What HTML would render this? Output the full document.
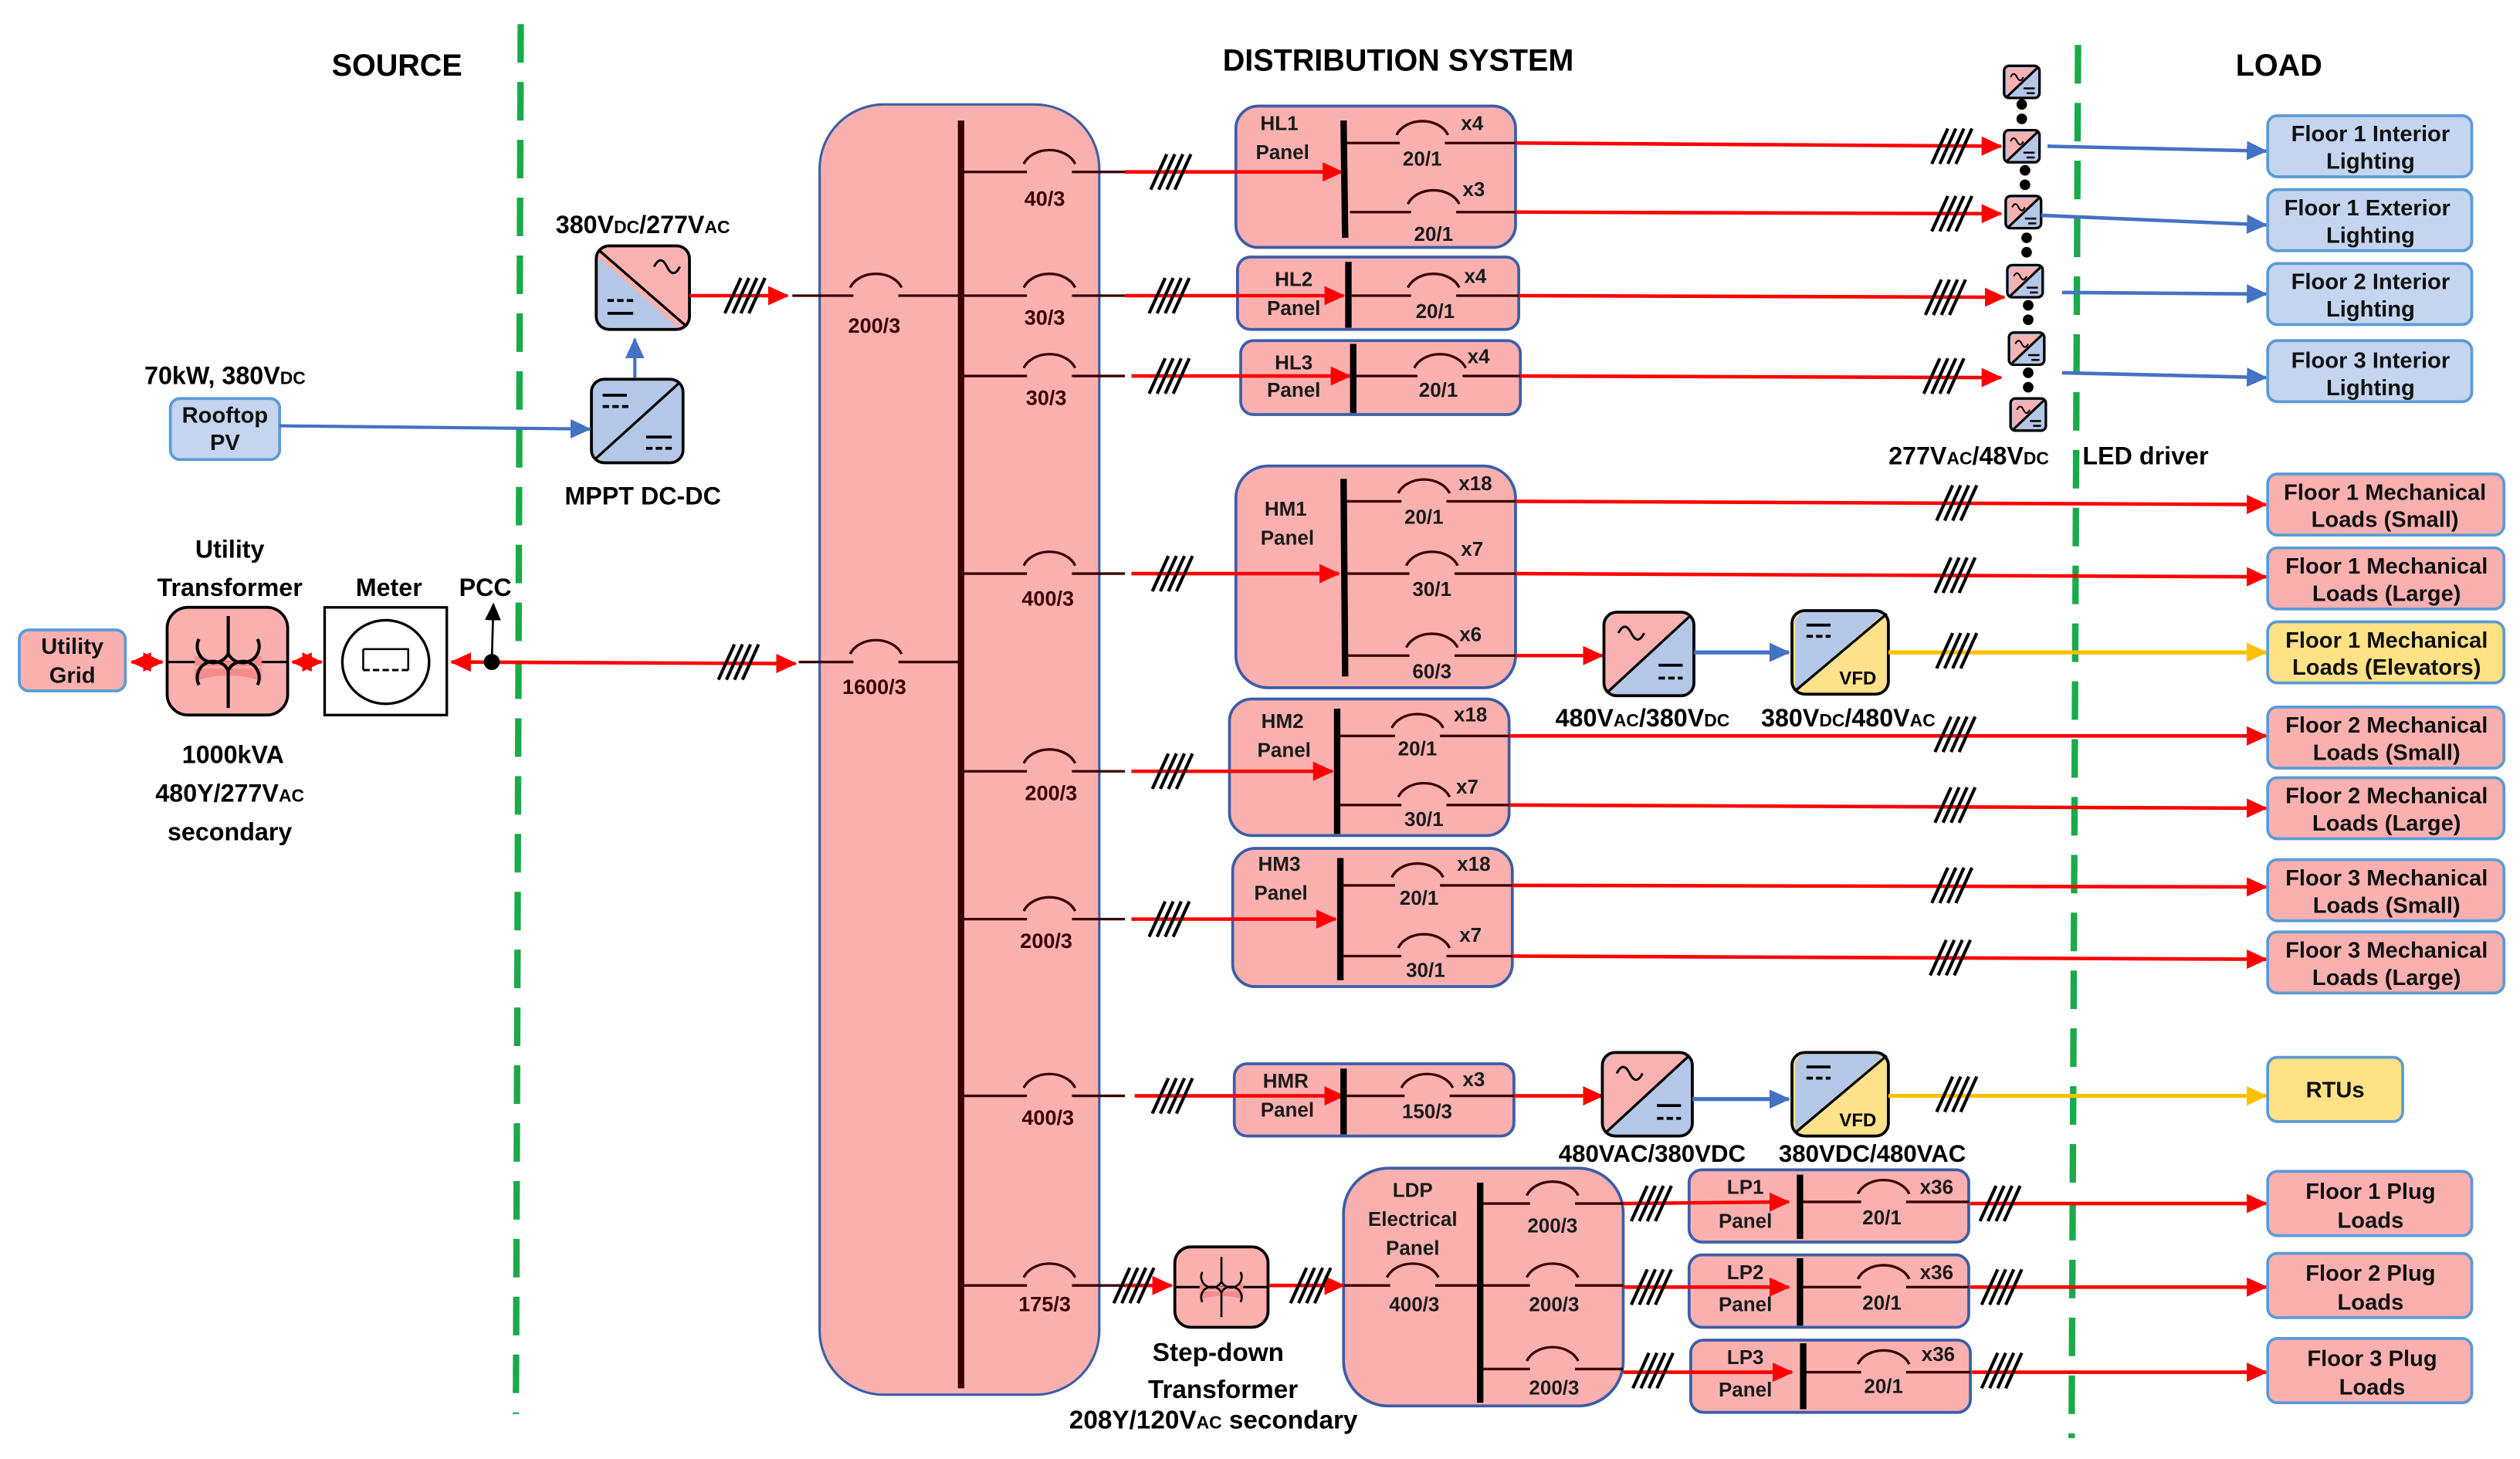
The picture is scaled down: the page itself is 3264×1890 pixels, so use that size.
<!DOCTYPE html>
<html><head><meta charset="utf-8"><style>
html,body{margin:0;padding:0;background:#fff;}
svg{display:block;}
text{font-family:"Liberation Sans",sans-serif;font-weight:bold;}
</style></head><body>
<svg width="3264" height="1890" viewBox="0 0 1568 908" preserveAspectRatio="none" xmlns="http://www.w3.org/2000/svg">
<defs>
<marker id="ar" markerUnits="userSpaceOnUse" markerWidth="14" markerHeight="12" refX="12" refY="6" orient="auto"><path d="M0,0 L13,6 L0,12 Z" fill="#ff0000"/></marker>
<marker id="arS" markerUnits="userSpaceOnUse" markerWidth="14" markerHeight="12" refX="1" refY="6" orient="auto"><path d="M13,0 L0,6 L13,12 Z" fill="#ff0000"/></marker>
<marker id="ab" markerUnits="userSpaceOnUse" markerWidth="14" markerHeight="12" refX="12" refY="6" orient="auto"><path d="M0,0 L13,6 L0,12 Z" fill="#4472c4"/></marker>
<marker id="ay" markerUnits="userSpaceOnUse" markerWidth="14" markerHeight="12" refX="12" refY="6" orient="auto"><path d="M0,0 L13,6 L0,12 Z" fill="#ffc000"/></marker>
<marker id="ak" markerUnits="userSpaceOnUse" markerWidth="12" markerHeight="12" refX="10" refY="5" orient="auto"><path d="M0,0 L11,5 L0,10 Z" fill="#000"/></marker>
<g id="h" stroke="#000" stroke-width="2"><path d="M-15,11 L-5,-11 M-10,11 L0,-11 M-5,11 L5,-11 M0,11 L10,-11"/></g>
<path id="arc" d="M-16,-5 A17 13 0 0 1 16,-5" fill="none" stroke="#3a0000" stroke-width="1.6"/>
<g id="led"><rect x="0" y="0" width="22" height="20" rx="3" fill="#b4c7e7" stroke="#000" stroke-width="1.5"/><path d="M1.5,1.5 H20 L2,18.5 Z" fill="#f9b1b1"/><rect x="0" y="0" width="22" height="20" rx="3" fill="none" stroke="#000" stroke-width="1.5"/><path d="M2,19 L21,1" stroke="#000" stroke-width="1.5"/><path d="M4,7 q2,-4 4,0 q2,4 4,0" fill="none" stroke="#000" stroke-width="1"/><path d="M12,14 h7 M14,17 h5" stroke="#000" stroke-width="1.2"/></g>
<g id="xf"><path d="M-16,-3 Q0,2 16,-3 L16,2 L-16,2 Z M-16,3 L16,3 L16,9 Q0,4 -16,9 Z" fill="#f58c8c"/><path d="M0,-22 V-4 M-14,-11 A7 7 0 0 0 0,-4 A7 7 0 0 0 14,-11 M0,22 V4 M-14,11 A7 7 0 0 1 0,4 A7 7 0 0 1 14,11" fill="none" stroke="#000" stroke-width="1.5"/></g>
</defs>

<text x="247" y="47" font-size="19" text-anchor="middle">SOURCE</text>
<text x="870" y="44" font-size="19" text-anchor="middle">DISTRIBUTION SYSTEM</text>
<text x="1418" y="47" font-size="19" text-anchor="middle">LOAD</text>

<line x1="324" y1="15" x2="321" y2="880" stroke="#1aaa4a" stroke-width="4" stroke-dasharray="24,12"/>
<line x1="1293" y1="28" x2="1289" y2="895" stroke="#1aaa4a" stroke-width="4" stroke-dasharray="24,12"/>

<rect x="510" y="65" width="174" height="803" rx="40" fill="#fbb0b0" stroke="#3b5ea6" stroke-width="1.5"/>
<line x1="598" y1="75" x2="598" y2="864" stroke="#3a0000" stroke-width="4"/>

<g stroke="#3a0000" stroke-width="1.6" fill="none">
<path d="M493,184 H531 M559,184 H598 M497,412 H531 M559,412 H598"/>
<path d="M600,107 H639 M667,107 H700 M600,184 H639 M667,184 H700 M600,234 H639 M667,234 H700 M600,357 H639 M667,357 H700 M600,480 H639 M667,480 H700 M600,572 H639 M667,572 H700 M600,682 H639 M667,682 H700 M600,800 H639 M667,800 H700"/>
</g>
<use href="#arc" x="545" y="184"/><use href="#arc" x="545" y="412"/>
<use href="#arc" x="653" y="107"/><use href="#arc" x="653" y="184"/><use href="#arc" x="653" y="234"/><use href="#arc" x="653" y="357"/><use href="#arc" x="653" y="480"/><use href="#arc" x="653" y="572"/><use href="#arc" x="653" y="682"/><use href="#arc" x="653" y="800"/>
<g font-size="13" fill="#3a0000" text-anchor="middle">
<text x="544" y="207">200/3</text><text x="544" y="432">1600/3</text>
<text x="650" y="128">40/3</text><text x="650" y="202">30/3</text><text x="651" y="252">30/3</text><text x="652" y="377">400/3</text><text x="654" y="498">200/3</text><text x="651" y="590">200/3</text><text x="652" y="700">400/3</text><text x="650" y="816">175/3</text>
</g>

<!-- panels -->
<g fill="#fbb0b0" stroke="#3b5ea6" stroke-width="1.8">
<rect x="769" y="66" width="174" height="88" rx="14"/>
<rect x="770" y="160" width="175" height="45" rx="8"/>
<rect x="772" y="212" width="174" height="46" rx="8"/>
<rect x="769" y="290" width="174" height="138" rx="20"/>
<rect x="765" y="435" width="174" height="85" rx="14"/>
<rect x="767" y="528" width="174" height="86" rx="14"/>
<rect x="768" y="662" width="174" height="45" rx="8"/>
<rect x="836" y="727" width="174" height="148" rx="28"/>
<rect x="1051" y="728" width="174" height="45" rx="8"/>
<rect x="1051" y="781" width="174" height="45" rx="8"/>
<rect x="1052" y="834" width="174" height="45" rx="8"/>
</g>

<!-- feeder red arrows (after panels) -->
<g stroke="#ff0000" stroke-width="2.2" marker-end="url(#ar)">
<line x1="700" y1="107" x2="835" y2="107"/><line x1="700" y1="184" x2="836" y2="184"/><line x1="704" y1="234" x2="840" y2="234"/>
<line x1="704" y1="357" x2="833" y2="357"/><line x1="704" y1="480" x2="829" y2="480"/><line x1="704" y1="572" x2="831" y2="572"/>
<line x1="706" y1="682" x2="836" y2="682"/><line x1="700" y1="800" x2="729" y2="800"/>
</g>
<use href="#h" x="731" y="107"/><use href="#h" x="730" y="184"/><use href="#h" x="730" y="234"/><use href="#h" x="732" y="357"/><use href="#h" x="732" y="480"/><use href="#h" x="730" y="572"/><use href="#h" x="732" y="682"/><use href="#h" x="708" y="800"/>

<g stroke="#000" stroke-width="4">
<line x1="836" y1="75" x2="837" y2="148"/><line x1="839" y1="163" x2="839" y2="204"/><line x1="842" y1="214" x2="842" y2="257"/>
<line x1="836" y1="298" x2="837" y2="421"/><line x1="832" y1="441" x2="832" y2="519"/><line x1="834" y1="534" x2="834" y2="610"/>
<line x1="836" y1="665" x2="836" y2="706"/><line x1="921" y1="736" x2="921" y2="873"/>
<line x1="1120" y1="731" x2="1120" y2="771"/><line x1="1120" y1="783" x2="1120" y2="825"/><line x1="1122" y1="836" x2="1122" y2="877"/>
</g>
<g stroke="#3a0000" stroke-width="1.6">
<path d="M838,89 H871 M899,89 H943 M840,132 H878 M906,132 H943"/>
<path d="M841,184 H878 M906,184 H945"/>
<path d="M844,234 H882 M910,234 H946"/>
<path d="M838,312 H872 M900,312 H943 M838,357 H877 M905,357 H943 M838,408 H877 M905,408 H943"/>
<path d="M834,458 H868 M896,458 H939 M834,501 H872 M900,501 H939"/>
<path d="M836,551 H868 M896,551 H941 M836,595 H872 M900,595 H941"/>
<path d="M838,682 H874 M902,682 H942"/>
<path d="M836,800 H865 M893,800 H919 M923,749 H952 M980,749 H1010 M923,800 H952 M980,800 H1010 M923,852 H952 M980,852 H1010"/>
<path d="M1122,748 H1158 M1186,748 H1225 M1122,801 H1158 M1186,801 H1225 M1124,854 H1158 M1186,854 H1226"/>
</g>
<use href="#arc" x="885" y="89"/><use href="#arc" x="892" y="132"/><use href="#arc" x="892" y="184"/><use href="#arc" x="896" y="234"/>
<use href="#arc" x="886" y="312"/><use href="#arc" x="891" y="357"/><use href="#arc" x="891" y="408"/>
<use href="#arc" x="882" y="458"/><use href="#arc" x="886" y="501"/><use href="#arc" x="882" y="551"/><use href="#arc" x="886" y="595"/>
<use href="#arc" x="888" y="682"/><use href="#arc" x="879" y="800"/><use href="#arc" x="966" y="749"/><use href="#arc" x="966" y="800"/><use href="#arc" x="966" y="852"/>
<use href="#arc" x="1172" y="748"/><use href="#arc" x="1172" y="801"/><use href="#arc" x="1172" y="854"/>

<g font-size="12.5" fill="#1a1a1a" text-anchor="middle">
<text x="796" y="81">HL1</text><text x="798" y="99">Panel</text>
<text x="805" y="178">HL2</text><text x="805" y="196">Panel</text>
<text x="805" y="230">HL3</text><text x="805" y="247">Panel</text>
<text x="800" y="321">HM1</text><text x="801" y="339">Panel</text>
<text x="798" y="453">HM2</text><text x="799" y="471">Panel</text>
<text x="796" y="542">HM3</text><text x="797" y="560">Panel</text>
<text x="800" y="677">HMR</text><text x="801" y="695">Panel</text>
<text x="879" y="745">LDP</text><text x="879" y="763">Electrical</text><text x="879" y="781">Panel</text>
<text x="1086" y="743">LP1</text><text x="1086" y="764">Panel</text>
<text x="1086" y="796">LP2</text><text x="1086" y="816">Panel</text>
<text x="1086" y="849">LP3</text><text x="1086" y="869">Panel</text>
</g>
<g font-size="12.5" fill="#1a1a1a" text-anchor="middle">
<text x="885" y="103">20/1</text><text x="892" y="150">20/1</text><text x="893" y="198">20/1</text><text x="895" y="247">20/1</text>
<text x="886" y="326">20/1</text><text x="891" y="371">30/1</text><text x="891" y="422">60/3</text>
<text x="882" y="470">20/1</text><text x="886" y="514">30/1</text><text x="883" y="563">20/1</text><text x="887" y="608">30/1</text>
<text x="888" y="696">150/3</text><text x="880" y="816">400/3</text><text x="966" y="767">200/3</text><text x="967" y="816">200/3</text><text x="967" y="868">200/3</text>
<text x="1171" y="762">20/1</text><text x="1171" y="815">20/1</text><text x="1172" y="867">20/1</text>
<text x="916" y="81">x4</text><text x="917" y="122">x3</text><text x="918" y="176">x4</text><text x="920" y="226">x4</text>
<text x="918" y="305">x18</text><text x="916" y="346">x7</text><text x="915" y="399">x6</text>
<text x="915" y="449">x18</text><text x="913" y="494">x7</text><text x="917" y="542">x18</text><text x="915" y="586">x7</text>
<text x="917" y="676">x3</text><text x="1205" y="743">x36</text><text x="1205" y="796">x36</text><text x="1206" y="847">x36</text>
</g>

<g stroke="#ff0000" stroke-width="2.2" marker-end="url(#ar)">
<line x1="943" y1="89" x2="1245" y2="91"/><line x1="943" y1="132" x2="1245" y2="133"/><line x1="945" y1="184" x2="1247" y2="185"/><line x1="946" y1="234" x2="1245" y2="235"/>
<line x1="943" y1="312" x2="1410" y2="314"/><line x1="943" y1="357" x2="1410" y2="359"/><line x1="943" y1="408" x2="997" y2="408"/>
<line x1="939" y1="458" x2="1410" y2="458"/><line x1="939" y1="501" x2="1410" y2="503"/>
<line x1="941" y1="551" x2="1410" y2="552"/><line x1="941" y1="595" x2="1410" y2="597"/>
<line x1="942" y1="682" x2="997" y2="682"/>
<line x1="1010" y1="749" x2="1113" y2="748"/><line x1="1010" y1="801" x2="1113" y2="801"/><line x1="1010" y1="854" x2="1115" y2="854"/>
<line x1="1226" y1="749" x2="1410" y2="749"/><line x1="1226" y1="801" x2="1410" y2="801"/><line x1="1227" y1="854" x2="1410" y2="854"/>
<line x1="790" y1="800" x2="836" y2="800"/>
</g>
<use href="#h" x="1217" y="91"/><use href="#h" x="1217" y="133"/><use href="#h" x="1213" y="185"/><use href="#h" x="1212" y="234"/>
<use href="#h" x="1220" y="313"/><use href="#h" x="1219" y="358"/><use href="#h" x="1219" y="457"/><use href="#h" x="1219" y="501"/>
<use href="#h" x="1217" y="551"/><use href="#h" x="1216" y="596"/>
<use href="#h" x="1030" y="749"/><use href="#h" x="1030" y="801"/><use href="#h" x="1031" y="853"/>
<use href="#h" x="1247" y="749"/><use href="#h" x="1248" y="801"/><use href="#h" x="1248" y="853"/>
<use href="#h" x="818" y="800"/>

<rect x="731" y="776" width="58" height="50" rx="10" fill="#fbb0b0" stroke="#000" stroke-width="1.8"/>
<line x1="731" y1="801" x2="789" y2="801" stroke="#000" stroke-width="1.5"/>
<use href="#xf" transform="translate(760 801) scale(0.85)"/>
<g font-size="16" text-anchor="middle" fill="#000">
<text x="758" y="847">Step-down</text><text x="761" y="870">Transformer</text><text x="755" y="889">208Y/120V<tspan font-size="11">AC</tspan> secondary</text>
</g>

<g>
<rect x="998" y="381" width="56" height="52" rx="8" fill="#b4c7e7"/>
<path d="M1004,382 H1053 L999,432 V388 Z" fill="#f9b1b1"/>
<rect x="998" y="381" width="56" height="52" rx="8" fill="none" stroke="#000" stroke-width="1.8"/>
<line x1="1000" y1="431" x2="1052" y2="383" stroke="#000" stroke-width="1.6"/>
<path d="M1007,394 q4,-8 8,0 q4,8 8,0" fill="none" stroke="#000" stroke-width="1.4"/>
<path d="M1032,414 h15 M1032,422 h4 M1038,422 h4 M1044,422 h3" stroke="#000" stroke-width="1.8"/>
</g>
<line x1="1054" y1="406" x2="1113" y2="406" stroke="#4472c4" stroke-width="2.5" marker-end="url(#ab)"/>
<g>
<rect x="1115" y="380" width="60" height="52" rx="8" fill="#fde18b"/>
<path d="M1121,381 H1173 L1117,430 V386 Z" fill="#b4c7e7"/>
<rect x="1115" y="380" width="60" height="52" rx="8" fill="none" stroke="#000" stroke-width="1.8"/>
<line x1="1117" y1="430" x2="1174" y2="382" stroke="#000" stroke-width="1.6"/>
<path d="M1124,389 h15 M1124,396 h4 M1130,396 h4 M1136,396 h3" stroke="#000" stroke-width="1.8"/>
<text x="1156" y="426" font-size="11.5" text-anchor="middle">VFD</text>
</g>
<line x1="1175" y1="406" x2="1410" y2="406" stroke="#ffc000" stroke-width="2.5" marker-end="url(#ay)"/>
<use href="#h" x="1220" y="405"/>
<g font-size="15.5" text-anchor="middle"><text x="1022" y="452">480V<tspan font-size="11">AC</tspan>/380V<tspan font-size="11">DC</tspan></text><text x="1150" y="452">380V<tspan font-size="11">DC</tspan>/480V<tspan font-size="11">AC</tspan></text></g>

<g>
<rect x="997" y="655" width="56" height="52" rx="8" fill="#b4c7e7"/>
<path d="M1003,656 H1052 L998,706 V662 Z" fill="#f9b1b1"/>
<rect x="997" y="655" width="56" height="52" rx="8" fill="none" stroke="#000" stroke-width="1.8"/>
<line x1="999" y1="705" x2="1051" y2="657" stroke="#000" stroke-width="1.6"/>
<path d="M1006,668 q4,-8 8,0 q4,8 8,0" fill="none" stroke="#000" stroke-width="1.4"/>
<path d="M1031,688 h15 M1031,696 h4 M1037,696 h4 M1043,696 h3" stroke="#000" stroke-width="1.8"/>
</g>
<line x1="1053" y1="684" x2="1113" y2="684" stroke="#4472c4" stroke-width="2.5" marker-end="url(#ab)"/>
<g>
<rect x="1115" y="655" width="60" height="52" rx="8" fill="#fde18b"/>
<path d="M1121,656 H1173 L1117,705 V661 Z" fill="#b4c7e7"/>
<rect x="1115" y="655" width="60" height="52" rx="8" fill="none" stroke="#000" stroke-width="1.8"/>
<line x1="1117" y1="705" x2="1174" y2="657" stroke="#000" stroke-width="1.6"/>
<path d="M1124,664 h15 M1124,671 h4 M1130,671 h4 M1136,671 h3" stroke="#000" stroke-width="1.8"/>
<text x="1156" y="701" font-size="11.5" text-anchor="middle">VFD</text>
</g>
<line x1="1175" y1="682" x2="1410" y2="682" stroke="#ffc000" stroke-width="2.5" marker-end="url(#ay)"/>
<use href="#h" x="1220" y="681"/>
<g font-size="15" text-anchor="middle"><text x="1028" y="723">480VAC/380VDC</text><text x="1165" y="723">380VDC/480VAC</text></g>

<use href="#led" x="1247" y="41"/><use href="#led" x="1247" y="81"/><use href="#led" x="1248" y="122"/><use href="#led" x="1249" y="165"/><use href="#led" x="1250" y="207"/><use href="#led" x="1251" y="248"/>
<g fill="#000">
<circle cx="1258" cy="65" r="3.3"/><circle cx="1258" cy="74" r="3.3"/><circle cx="1260" cy="106" r="3.3"/><circle cx="1260" cy="115" r="3.3"/>
<circle cx="1261" cy="148" r="3.3"/><circle cx="1261" cy="157" r="3.3"/><circle cx="1262" cy="190" r="3.3"/><circle cx="1262" cy="199" r="3.3"/>
<circle cx="1262" cy="232" r="3.3"/><circle cx="1262" cy="241" r="3.3"/>
</g>
<g stroke="#4472c4" stroke-width="2.2" marker-end="url(#ab)">
<line x1="1274" y1="91" x2="1410" y2="94"/><line x1="1270" y1="134" x2="1410" y2="140"/><line x1="1283" y1="182" x2="1410" y2="183"/><line x1="1283" y1="232" x2="1410" y2="235"/>
</g>
<text x="1225" y="289" font-size="15.5" text-anchor="middle">277V<tspan font-size="11">AC</tspan>/48V<tspan font-size="11">DC</tspan></text>
<text x="1335" y="289" font-size="15.5" text-anchor="middle">LED driver</text>

<g stroke="#5b9bd5" stroke-width="1.8">
<g fill="#c5d5ef">
<rect x="1411" y="72" width="127" height="38" rx="6"/><rect x="1411" y="118" width="127" height="38" rx="6"/><rect x="1411" y="164" width="127" height="38" rx="6"/><rect x="1411" y="212" width="127" height="38" rx="6"/>
<rect x="106" y="248" width="68" height="38" rx="6"/>
</g>
<g fill="#fbb0b0">
<rect x="1411" y="295" width="147" height="38" rx="6"/><rect x="1411" y="341" width="147" height="38" rx="6"/>
<rect x="1411" y="440" width="147" height="38" rx="6"/><rect x="1411" y="484" width="147" height="38" rx="6"/>
<rect x="1411" y="535" width="147" height="38" rx="6"/><rect x="1411" y="580" width="147" height="38" rx="6"/>
<rect x="1411" y="729" width="127" height="40" rx="6"/><rect x="1411" y="780" width="127" height="40" rx="6"/><rect x="1411" y="833" width="127" height="40" rx="6"/>
<rect x="12" y="392" width="66" height="38" rx="6"/>
</g>
<g fill="#ffe286">
<rect x="1411" y="387" width="147" height="38" rx="6"/><rect x="1411" y="658" width="84" height="40" rx="6"/>
</g>
</g>
<g font-size="14" text-anchor="middle" fill="#111">
<text x="1475" y="88">Floor 1 Interior</text><text x="1475" y="105">Lighting</text>
<text x="1473" y="134">Floor 1 Exterior</text><text x="1475" y="151">Lighting</text>
<text x="1475" y="180">Floor 2 Interior</text><text x="1475" y="197">Lighting</text>
<text x="1475" y="229">Floor 3 Interior</text><text x="1475" y="246">Lighting</text>
<text x="1484" y="311">Floor 1 Mechanical</text><text x="1484" y="328">Loads (Small)</text>
<text x="1485" y="357">Floor 1 Mechanical</text><text x="1485" y="374">Loads (Large)</text>
<text x="1485" y="403">Floor 1 Mechanical</text><text x="1485" y="420">Loads (Elevators)</text>
<text x="1485" y="456">Floor 2 Mechanical</text><text x="1485" y="473">Loads (Small)</text>
<text x="1485" y="500">Floor 2 Mechanical</text><text x="1485" y="517">Loads (Large)</text>
<text x="1485" y="551">Floor 3 Mechanical</text><text x="1485" y="568">Loads (Small)</text>
<text x="1485" y="596">Floor 3 Mechanical</text><text x="1485" y="613">Loads (Large)</text>
<text x="1453" y="683">RTUs</text>
<text x="1475" y="746">Floor 1 Plug</text><text x="1475" y="764">Loads</text>
<text x="1475" y="797">Floor 2 Plug</text><text x="1475" y="815">Loads</text>
<text x="1476" y="850">Floor 3 Plug</text><text x="1476" y="868">Loads</text>
<text x="140" y="263">Rooftop</text><text x="140" y="280">PV</text>
<text x="45" y="407">Utility</text><text x="45" y="425">Grid</text>
</g>

<g>
<rect x="371" y="153" width="58" height="52" rx="8" fill="#f9b1b1"/>
<path d="M372,160 L422,204 H378 Q372,204 372,198 Z" fill="#b4c7e7"/>
<rect x="371" y="153" width="58" height="52" rx="8" fill="none" stroke="#000" stroke-width="1.8"/>
<line x1="373" y1="156" x2="427" y2="203" stroke="#000" stroke-width="1.6"/>
<path d="M407,166 q4,-8 8,0 q4,8 8,0" fill="none" stroke="#000" stroke-width="1.4"/>
<path d="M378,187 h4 M384,187 h4 M390,187 h4 M378,195 h16" stroke="#000" stroke-width="1.8"/>
</g>
<g>
<rect x="368" y="236" width="57" height="52" rx="8" fill="#b4c7e7" stroke="#000" stroke-width="1.8"/>
<line x1="370" y1="286" x2="423" y2="238" stroke="#000" stroke-width="1.6"/>
<path d="M375,246 h15 M375,253 h4 M381,253 h4 M387,253 h4 M402,272 h16 M402,279 h4 M408,279 h4 M414,279 h4" stroke="#000" stroke-width="1.8"/>
</g>
<line x1="395" y1="235" x2="395" y2="211" stroke="#4472c4" stroke-width="2" marker-end="url(#ab)"/>
<line x1="174" y1="265" x2="367" y2="267" stroke="#4472c4" stroke-width="2" marker-end="url(#ab)"/>
<line x1="429" y1="184" x2="490" y2="184" stroke="#ff0000" stroke-width="2.2" marker-end="url(#ar)"/>
<use href="#h" x="466" y="184"/>
<g font-size="15.5" text-anchor="middle">
<text x="400" y="145">380V<tspan font-size="11">DC</tspan>/277V<tspan font-size="11">AC</tspan></text>
<text x="400" y="314">MPPT DC-DC</text>
<text x="140" y="239">70kW, 380V<tspan font-size="11">DC</tspan></text>
<text x="143" y="347">Utility</text><text x="143" y="371">Transformer</text>
<text x="242" y="371">Meter</text><text x="302" y="371">PCC</text>
<text x="145" y="475">1000kVA</text><text x="143" y="499">480Y/277V<tspan font-size="11">AC</tspan></text><text x="143" y="523">secondary</text>
</g>

<rect x="104" y="378" width="75" height="67" rx="13" fill="#fbb0b0" stroke="#000" stroke-width="1.8"/>
<line x1="104" y1="412" x2="179" y2="412" stroke="#000" stroke-width="1.5"/>
<use href="#xf" transform="translate(142 412) scale(1.3)"/>
<rect x="202" y="378" width="76" height="67" fill="#fff" stroke="#000" stroke-width="1.6"/>
<ellipse cx="240" cy="412" rx="27" ry="26" fill="none" stroke="#000" stroke-width="1.6"/>
<path d="M226,404 H254 V417 M226,404 V417" fill="none" stroke="#000" stroke-width="1.2"/>
<line x1="226" y1="417" x2="254" y2="417" stroke="#000" stroke-width="1.4" stroke-dasharray="4,2"/>
<g stroke="#ff0000" stroke-width="2.2">
<line x1="82" y1="412" x2="101" y2="412" marker-start="url(#arS)" marker-end="url(#ar)"/>
<line x1="182" y1="412" x2="200" y2="412" marker-start="url(#arS)" marker-end="url(#ar)"/>
<line x1="281" y1="412" x2="495" y2="413" marker-start="url(#arS)" marker-end="url(#ar)"/>
</g>
<use href="#h" x="462" y="412"/>
<circle cx="306" cy="412" r="5" fill="#000"/>
<line x1="306" y1="412" x2="307" y2="376" stroke="#000" stroke-width="1.3" marker-end="url(#ak)"/>
</svg>
</body></html>
